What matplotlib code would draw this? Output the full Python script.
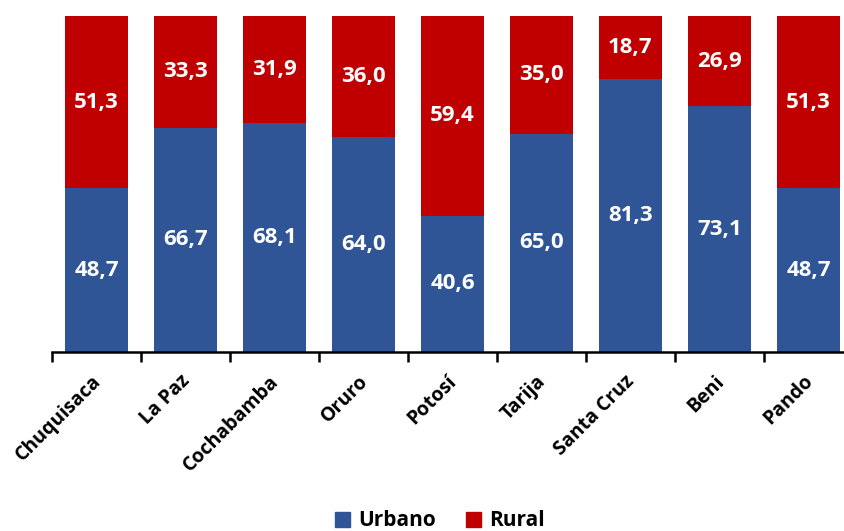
import numpy as np
import matplotlib.pyplot as plt
from matplotlib.patches import Patch

departamentos = ['Chuquisaca', 'La Paz', 'Cochabamba', 'Oruro', 'Potosí',
                 'Tarija', 'Santa Cruz', 'Beni', 'Pando']
urbano = [48.7, 66.7, 68.1, 64.0, 40.6, 65.0, 81.3, 73.1, 48.7]
rural = [51.3, 33.3, 31.9, 36.0, 59.4, 35.0, 18.7, 26.9, 51.3]

azul = '#2F5597'
rojo = '#C00000'

plt.rcParams['font.family'] = ['Open Sans', 'DejaVu Sans']
plt.rcParams['font.weight'] = 'bold'

fig = plt.figure(figsize=(8.44, 5.31), dpi=100)
# eje un poco mas ancho que la figura (como en el original recortado)
ax = fig.add_axes([52 / 844, 1 - 352 / 531, 801 / 844, 336 / 531])

x = np.arange(len(departamentos))
ax.bar(x, urbano, width=0.71, color=azul)
ax.bar(x, rural, width=0.71, bottom=urbano, color=rojo)

for i in range(len(x)):
    ax.text(x[i], urbano[i] / 2, f'{urbano[i]:.1f}'.replace('.', ','),
            ha='center', va='center', color='white', fontsize=16, fontweight='bold')
    ax.text(x[i], urbano[i] + rural[i] / 2, f'{rural[i]:.1f}'.replace('.', ','),
            ha='center', va='center', color='white', fontsize=16, fontweight='bold')

ax.set_xlim(-0.5, len(x) - 0.5)
ax.set_ylim(0, 100)
ax.set_yticks([])
for s in ['top', 'right', 'left']:
    ax.spines[s].set_visible(False)
ax.spines['bottom'].set_linewidth(1.8)

# ticks entre categorias
ax.set_xticks(np.arange(-0.5, len(x), 1))
ax.set_xticklabels([])
ax.tick_params(axis='x', length=7, width=1.8, direction='out')

for i, d in enumerate(departamentos):
    ax.annotate(d, xy=(x[i], 0), xycoords='data', xytext=(1, -19),
                textcoords='offset points', rotation=45, ha='right', va='center',
                rotation_mode='anchor', fontsize=14, fontweight='bold')

handles = [Patch(color=azul, label='Urbano'), Patch(color=rojo, label='Rural')]
fig.legend(handles=handles, loc='center', bbox_to_anchor=(440 / 844, 1 - 521 / 531),
           ncol=2, frameon=False, fontsize=15, handlelength=0.75, handleheight=0.75,
           handletextpad=0.4, columnspacing=1.4)

plt.savefig('out.png', dpi=100)
